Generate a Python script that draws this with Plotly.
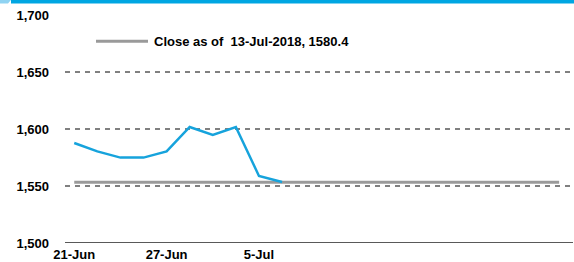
import plotly.graph_objects as go

dates = ["21-Jun", "22-Jun", "25-Jun", "26-Jun", "27-Jun", "28-Jun", "29-Jun",
         "2-Jul", "3-Jul", "5-Jul"]
price = [1587.7, 1580.4, 1574.9, 1574.9, 1580.4, 1601.8, 1594.7, 1601.8, 1558.8, 1553.5]
close_level = 1553.3
n_slots = 22
tick_pos = [0, 4, 8]
tick_text = ["21-Jun", "27-Jun", "5-Jul"]
legend_text = "Close as of  13-Jul-2018, 1580.4"

FONT = "Liberation Sans"
x_idx = list(range(len(price)))
tf = dict(family=FONT, size=13, color="#000", weight="bold")

fig = go.Figure()
fig.add_trace(go.Scatter(x=[0, n_slots - 1], y=[close_level, close_level], mode="lines",
                         line=dict(color="#9a9a9a", width=3), showlegend=False, hoverinfo="skip"))
fig.add_trace(go.Scatter(x=x_idx, y=price, mode="lines",
                         line=dict(color="#16a3dc", width=2.5), showlegend=False))

fig.update_layout(
    width=574, height=262,
    margin=dict(l=65, r=1, t=15, b=19),
    plot_bgcolor="white", paper_bgcolor="white",
    font=dict(family=FONT, size=13, color="#000000", weight="bold"),
    xaxis=dict(range=[-0.4, 21.6], tickmode="array", tickvals=tick_pos, ticktext=tick_text,
               showgrid=False, zeroline=False, showline=False, ticks="", automargin=False,
               tickfont=tf, ticklabelstandoff=2),
    yaxis=dict(range=[1500, 1700], tickvals=[1500, 1550, 1600, 1650, 1700],
               tickformat=",d", showgrid=True, gridcolor="#808080", gridwidth=1.5,
               griddash="5px,5px", zeroline=False, showline=False, ticks="", automargin=False,
               ticklabelstandoff=15, tickfont=tf),
    shapes=[
        dict(type="line", xref="paper", yref="y", x0=0, x1=1, y0=1500, y1=1500,
             line=dict(color="#222", width=1.5)),
        dict(type="path", xref="paper", yref="paper", layer="above",
             path="M %f,%f L %f,%f L %f,%f L %f,%f Z" % (-65/508, 1 + 15/228, 11/508 - 65/508, 1 + 15/228,
                                                        8/508 - 65/508, 1 + 11.5/228, -65/508, 1 + 11.5/228),
             fillcolor="#8fd3f2", line=dict(width=0)),
        dict(type="rect", xref="paper", yref="paper", layer="above",
             x0=(11 - 65)/508, x1=(574 - 65)/508,
             y0=1 + 11.5/228, y1=1 + 15/228, fillcolor="#00a6e2", line=dict(width=0)),
        dict(type="line", xref="paper", yref="paper", x0=(96 - 65)/508, x1=(148 - 65)/508,
             y0=(242.7 - 41)/228, y1=(242.7 - 41)/228, line=dict(color="#9a9a9a", width=3)),
    ],
    annotations=[
        dict(xref="paper", yref="paper", x=(152 - 65)/508, y=(242.7 - 41)/228,
             xanchor="left", yanchor="middle", showarrow=False,
             text=legend_text, font=tf),
    ],
)
fig.write_html("out.html", config={"displayModeBar": False},
               post_script="document.body.style.margin='0px';document.body.style.overflow='hidden';")
